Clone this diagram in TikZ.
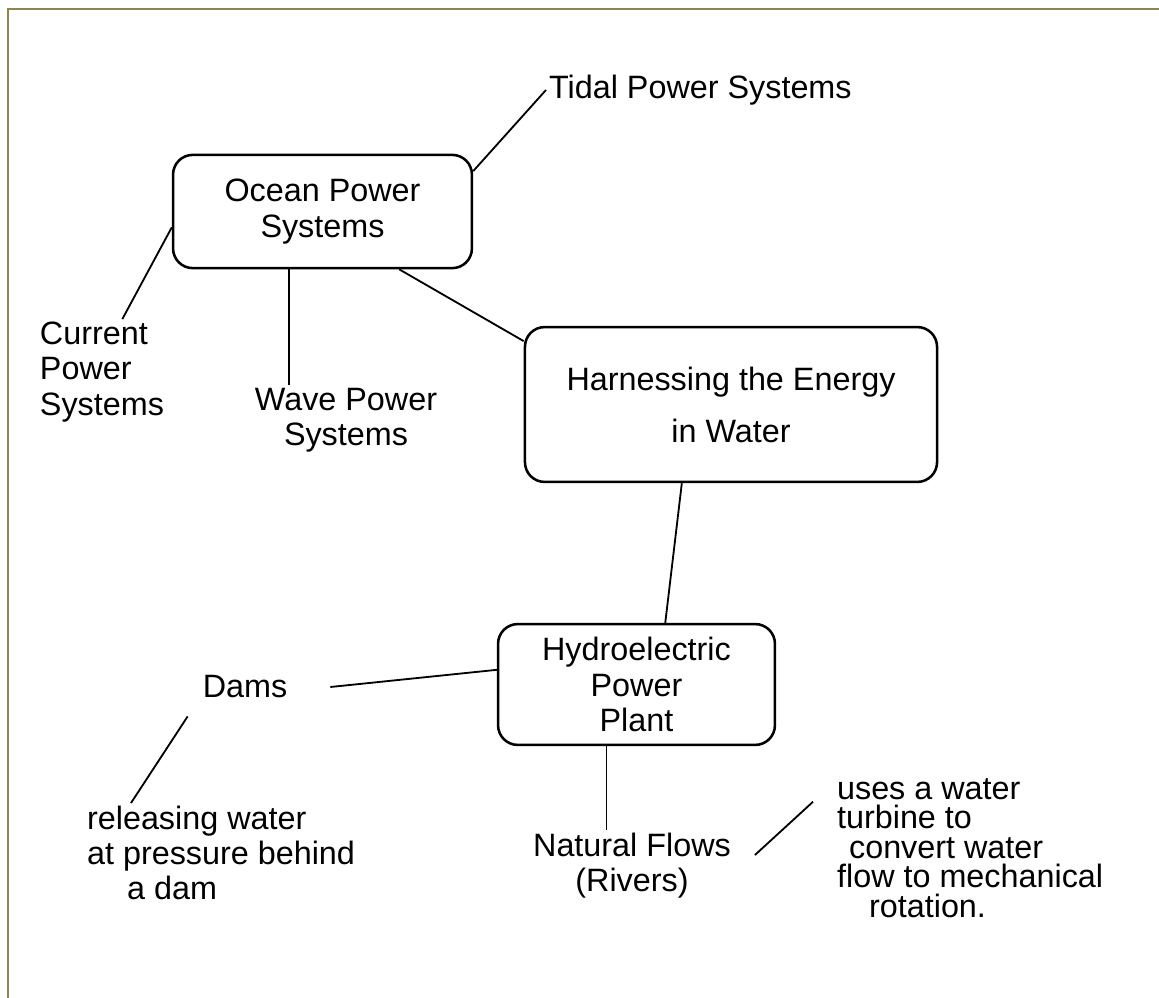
\documentclass[tikz,border=0pt]{standalone}
\usepackage{fontspec}
\setmainfont{Liberation Sans}
\usetikzlibrary{calc,positioning}
\definecolor{frameolive}{HTML}{8C864F}

\begin{document}
\begin{tikzpicture}[x=0.025cm, y=-0.025cm, every node/.style={font=\fontsize{23}{25}\selectfont, inner sep=2pt},
  bubble/.style={draw, line width=1.8pt, rounded corners=14pt, align=center},
  note/.style={align=center},
  link/.style={line width=1.3pt}]
\useasboundingbox (0,0) rectangle (1159,998);
\draw[frameolive, line width=0.05cm] (8,998) -- (8,9) -- (1159,9);
% boxes
\node[bubble, minimum width=7.47cm, minimum height=2.83cm] (ocean) at (322.5,211.5) {Ocean Power\\Systems};
\node[bubble, minimum width=10.3cm, minimum height=3.87cm] (harness) at (731,404.5) {Harnessing the Energy\\[12pt]in Water};
\node[bubble, minimum width=6.92cm, minimum height=3.02cm] (hydro) at (636.5,684.5) {Hydroelectric\\Power\\Plant};
% notes
\node[note, anchor=west] (tidal) at (546,90) {Tidal Power Systems};
\node[note, align=left] (current) at (102,372) {Current\\Power\\Systems};
\node[note] (wave) at (346,420) {Wave Power\\Systems};
\node[note] (dams) at (245,687) {Dams};
\node[note, align=left, anchor=north west] (releasing) at (84,803) {releasing water\\at pressure behind\\\hspace{1cm}a dam};
\node[note] (flows) at (632,866) {Natural Flows\\(Rivers)};
\node[note, align=left, anchor=north west] (uses) at (834,775) {uses a water\\[-4pt]turbine to\\[-4pt]\hspace{0.3cm}convert water\\[-4pt]flow to mechanical\\[-4pt]\hspace{0.8cm}rotation.};
% links
\draw[link] (ocean.15) -- (tidal.west);
\draw[link] (ocean.186) -- (current.69);
\draw[link] (ocean.240) -- (ocean.240 |- wave.north);
\draw[link] (ocean.-37) -- (harness.163);
\draw[link] (harness.238) -- (hydro.65);
\draw[link] ($(dams.east)+(40,0)$) -- (hydro.174);
\draw[link] ($(dams.south west)+(-12,15)$) -- ($(releasing.north west)+(47,0)$);
\draw[link] (hydro.244) -- (hydro.244 |- flows.north);
\draw[link] ($(flows.east)+(21,-11)$) -- ($(uses.west)+(-21,-46)$);
\end{tikzpicture}
\end{document}
